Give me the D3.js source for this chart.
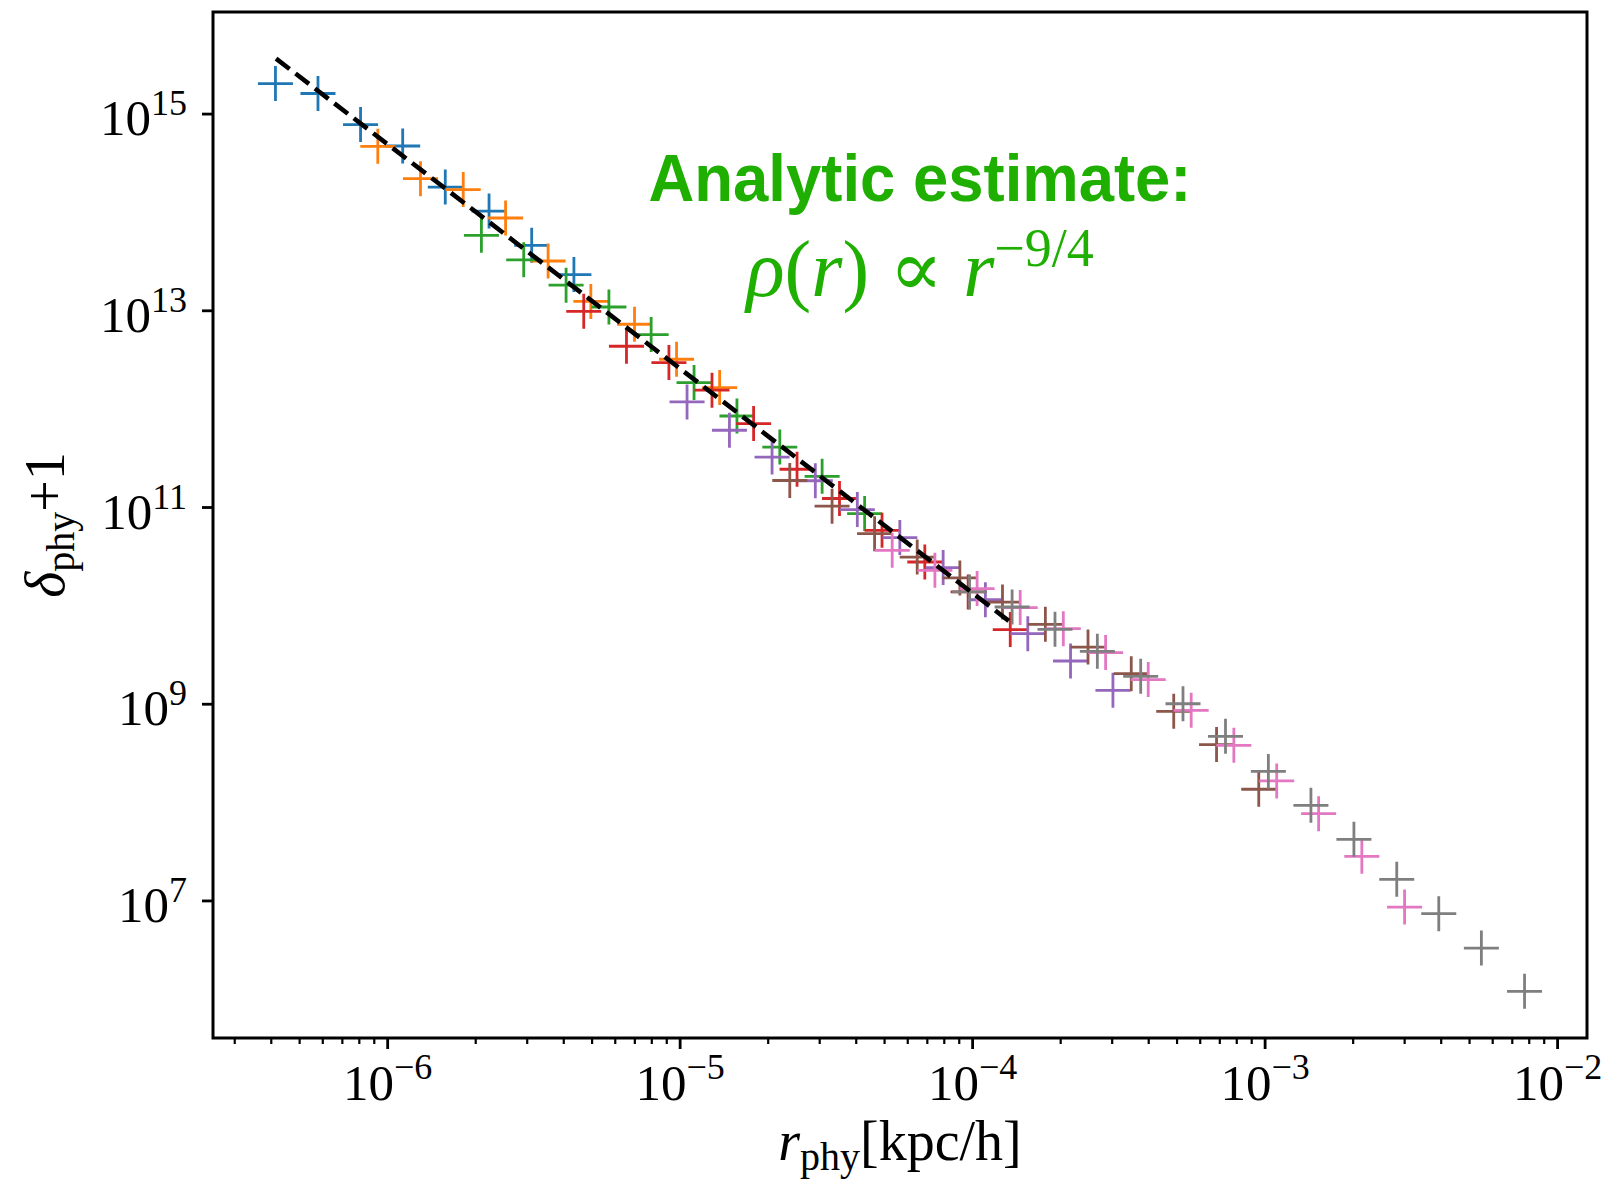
<!DOCTYPE html>
<html>
<head>
<meta charset="utf-8">
<script src="https://cdn.jsdelivr.net/npm/d3@7"></script>
<style>
  body { margin: 0; background: #fff; }
  svg { display: block; }
</style>
</head>
<body>
<div id="wrapper"></div>
<script>
// density profiles, one pair of arrays per snapshot (tab10 order)
const blueR = [4.15e-7, 5.80e-7, 8.11e-7, 1.13e-6, 1.58e-6, 2.23e-6, 3.12e-6, 4.35e-6];
const blueD = [2.02e15, 1.60e15, 7.73e14, 4.68e14, 1.79e14, 1.02e14, 4.58e13, 2.31e13];

const orangeR = [9.29e-7, 1.30e-6, 1.82e-6, 2.54e-6, 3.55e-6, 4.97e-6, 7.01e-6, 9.76e-6, 1.37e-5];
const orangeD = [4.65e14, 2.18e14, 1.69e14, 8.68e13, 3.17e13, 1.23e13, 7.21e12, 3.18e12, 1.64e12];

const greenR = [2.10e-6, 2.93e-6, 4.09e-6, 5.73e-6, 7.99e-6, 1.12e-5, 1.57e-5, 2.20e-5, 3.07e-5, 4.29e-5];
const greenD = [5.79e13, 3.26e13, 1.80e13, 1.08e13, 5.66e12, 1.84e12, 8.42e11, 4.07e11, 2.05e11, 8.57e10];

const redR = [4.70e-6, 6.58e-6, 9.19e-6, 1.29e-5, 1.79e-5, 2.52e-5, 3.52e-5, 4.92e-5, 6.89e-5, 9.69e-5, 1.35e-4];
const redD = [9.77e12, 4.31e12, 2.94e12, 1.54e12, 7.05e11, 2.42e11, 1.22e11, 5.80e10, 2.76e10, 1.37e10, 5.67e9];

const purpleR = [1.06e-5, 1.48e-5, 2.07e-5, 2.91e-5, 4.05e-5, 5.66e-5, 7.96e-5, 1.11e-4, 1.55e-4, 2.17e-4, 3.03e-4];
const purpleD = [1.17e12, 6.03e11, 3.22e11, 1.85e11, 9.41e10, 4.89e10, 2.42e10, 1.14e10, 5.16e9, 2.72e9, 1.37e9];

const brownR = [2.38e-5, 3.32e-5, 4.64e-5, 6.49e-5, 9.08e-5, 1.27e-4, 1.78e-4, 2.49e-4, 3.50e-4, 4.89e-4, 6.85e-4, 9.55e-4];
const brownD = [1.86e11, 1.02e11, 5.36e10, 3.10e10, 1.90e10, 1.08e10, 6.42e9, 3.77e9, 2.02e9, 8.37e8, 3.84e8, 1.35e8];

const pinkR = [5.33e-5, 7.46e-5, 1.04e-4, 1.46e-4, 2.05e-4, 2.86e-4, 4.00e-4, 5.61e-4, 7.85e-4, 1.10e-3, 1.53e-3, 2.15e-3, 3.01e-3];
const pinkD = [3.63e10, 2.27e10, 1.48e10, 9.49e9, 5.80e9, 3.31e9, 1.76e9, 8.57e8, 3.78e8, 1.64e8, 7.63e7, 2.81e7, 8.57e6];

const grayR = [9.80e-5, 1.37e-4, 1.92e-4, 2.68e-4, 3.77e-4, 5.26e-4, 7.35e-4, 1.03e-3, 1.44e-3, 2.02e-3, 2.83e-3, 3.94e-3, 5.51e-3, 7.74e-3];
const grayD = [1.37e10, 9.62e9, 5.71e9, 3.41e9, 1.90e9, 1.00e9, 4.66e8, 2.05e8, 9.27e7, 4.18e7, 1.64e7, 7.34e6, 3.28e6, 1.19e6];

// analytic r^-9/4 guide line, end points
const lineR = [4.17e-7, 1.35e-4];
const lineD = [3.62e15, 6.78e9];

const xTicks = [1e-6, 1e-5, 1e-4, 1e-3, 1e-2];
const xTickExp = ["\u22126", "\u22125", "\u22124", "\u22123", "\u22122"];
const yTicks = [1e7, 1e9, 1e11, 1e13, 1e15];
const yTickExp = ["7", "9", "11", "13", "15"];

const colors = ["#1f77b4", "#ff7f0e", "#2ca02c", "#d62728", "#9467bd", "#8c564b", "#e377c2", "#7f7f7f"];

function buildPlot() {
    const dimension = {
        width: 1615,
        height: 1180,
        margin: { top: 12, left: 213, bottom: 142, right: 28 }
    };
    dimension.boundedWidth = dimension.width - dimension.margin.left - dimension.margin.right;
    dimension.boundedHeight = dimension.height - dimension.margin.top - dimension.margin.bottom;

    const rs = [blueR, orangeR, greenR, redR, purpleR, brownR, pinkR, grayR];
    const ds = [blueD, orangeD, greenD, redD, purpleD, brownD, pinkD, grayD];

    const series = rs.map((r, i) => r.map((v, j) => ({ r: v, d: ds[i][j], color: colors[i] })));

    // matplotlib style 5% margins in log space
    const pad = (vals) => {
        const lo = Math.log10(d3.min(vals)), hi = Math.log10(d3.max(vals));
        const m = 0.05 * (hi - lo);
        return [Math.pow(10, lo - m), Math.pow(10, hi + m)];
    };
    const allR = rs.flat().concat(lineR);
    const allD = ds.flat().concat(lineD);

    const xScaler = d3.scaleLog().domain(pad(allR)).range([0, dimension.boundedWidth]);
    const yScaler = d3.scaleLog().domain(pad(allD)).range([dimension.boundedHeight, 0]);

    const svg = d3.select("#wrapper").append("svg")
        .attr("width", dimension.width)
        .attr("height", dimension.height)
        .style("background", "#fff");

    const bounds = svg.append("g")
        .attr("transform", `translate(${dimension.margin.left},${dimension.margin.top})`);

    const tickFont = "'Liberation Serif', 'DejaVu Serif', serif";

    // y axis, major ticks only
    const yAxis = bounds.append("g")
        .call(d3.axisLeft(yScaler).tickValues(yTicks).tickSize(11).tickPadding(15).tickFormat(() => ""));
    yAxis.select(".domain").remove();
    yAxis.selectAll(".tick line").attr("stroke", "#000").attr("stroke-width", 2.8);
    yAxis.selectAll(".tick text").each(function (d, i) {
        const t = d3.select(this)
            .attr("dy", "21px")
            .attr("fill", "#000")
            .style("font-family", tickFont)
            .style("font-size", "51px");
        t.append("tspan").text("10");
        t.append("tspan").attr("dy", "-20px").style("font-size", "36px").text(yTickExp[i]);
    });

    // x axis minor ticks
    const minor = [];
    for (let e = -7; e <= -2; e++) {
        for (let k = 2; k <= 9; k++) {
            const v = k * Math.pow(10, e);
            if (v > xScaler.domain()[0] && v < xScaler.domain()[1]) minor.push(v);
        }
    }
    const xMinor = bounds.append("g")
        .attr("transform", `translate(0,${dimension.boundedHeight})`)
        .call(d3.axisBottom(xScaler).tickValues(minor).tickSize(6).tickFormat(() => ""));
    xMinor.select(".domain").remove();
    xMinor.selectAll(".tick line").attr("stroke", "#000").attr("stroke-width", 2.2);

    const xAxis = bounds.append("g")
        .attr("transform", `translate(0,${dimension.boundedHeight})`)
        .call(d3.axisBottom(xScaler).tickValues(xTicks).tickSize(11).tickPadding(18).tickFormat(() => ""));
    xAxis.select(".domain").remove();
    xAxis.selectAll(".tick line").attr("stroke", "#000").attr("stroke-width", 2.8);
    xAxis.selectAll(".tick text").each(function (d, i) {
        const t = d3.select(this)
            .attr("y", 62)
            .attr("dy", 0)
            .attr("fill", "#000")
            .style("font-family", tickFont)
            .style("font-size", "51px");
        t.append("tspan").text("10");
        t.append("tspan").attr("dy", "-21px").style("font-size", "36px").text(xTickExp[i]);
    });

    // crosses
    const cross = "M-17.5,0H17.5M0,-17.5V17.5";
    series.forEach((s) => {
        bounds.append("g").selectAll("path")
            .data(s)
            .enter()
            .append("path")
            .attr("d", cross)
            .attr("transform", (d) => `translate(${xScaler(d.r)},${yScaler(d.d)})`)
            .attr("stroke", (d) => d.color)
            .attr("stroke-width", 2.8)
            .attr("fill", "none");
    });

    // dashed analytic line
    const lineData = lineR.map((r, i) => ({ r: r, d: lineD[i] }));
    bounds.append("path")
        .datum(lineData)
        .attr("d", d3.line().x((d) => xScaler(d.r)).y((d) => yScaler(d.d)))
        .attr("stroke", "#000")
        .attr("stroke-width", 4.6)
        .attr("stroke-dasharray", "17,7.5")
        .attr("fill", "none");

    // frame
    bounds.append("rect")
        .attr("width", dimension.boundedWidth)
        .attr("height", dimension.boundedHeight)
        .attr("fill", "none")
        .attr("stroke", "#000")
        .attr("stroke-width", 3);

    // axis labels
    const xLabel = svg.append("text")
        .attr("x", dimension.margin.left + dimension.boundedWidth / 2)
        .attr("y", 1160)
        .attr("text-anchor", "middle")
        .style("font-family", tickFont)
        .style("font-size", "56px");
    xLabel.append("tspan").style("font-style", "italic").text("r");
    xLabel.append("tspan").attr("dy", "10px").style("font-size", "40px").text("phy");
    xLabel.append("tspan").attr("dy", "-10px").text("[kpc/h]");

    const yLabel = svg.append("text")
        .attr("transform", `translate(64,${dimension.margin.top + dimension.boundedHeight / 2}) rotate(-90)`)
        .attr("text-anchor", "middle")
        .style("font-family", tickFont)
        .style("font-size", "56px");
    yLabel.append("tspan").style("font-style", "italic").text("\u03b4");
    yLabel.append("tspan").attr("dy", "10px").style("font-size", "40px").text("phy");
    yLabel.append("tspan").attr("dy", "-10px").text("+1");

    // annotation
    const green = "#1eaf00";
    svg.append("text")
        .attr("x", 920)
        .attr("y", 201)
        .attr("text-anchor", "middle")
        .attr("textLength", 543)
        .attr("lengthAdjust", "spacingAndGlyphs")
        .attr("fill", green)
        .style("font-family", "'Liberation Sans', Arial, sans-serif")
        .style("font-weight", "bold")
        .style("font-size", "67px")
        .text("Analytic estimate:");

    const formula = svg.append("text")
        .attr("x", 920)
        .attr("y", 296)
        .attr("text-anchor", "middle")
        .attr("fill", green)
        .style("font-family", tickFont)
        .style("font-size", "80px");
    formula.append("tspan").style("font-style", "italic").text("\u03c1");
    formula.append("tspan").text("(");
    formula.append("tspan").style("font-style", "italic").text("r");
    formula.append("tspan").text(") \u221d ");
    formula.append("tspan").style("font-style", "italic").text("r");
    formula.append("tspan").attr("dy", "-30px").style("font-size", "54px").text("\u22129/4");
}

buildPlot();
</script>
</body>
</html>
